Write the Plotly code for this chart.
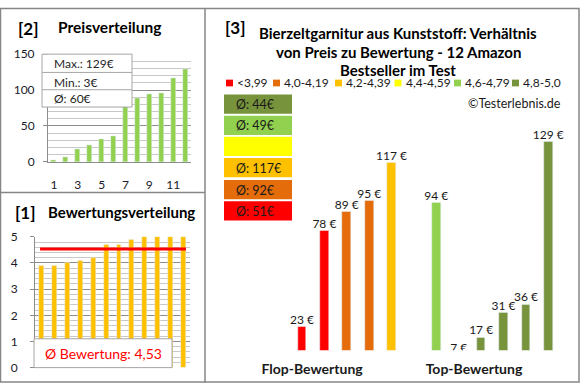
import plotly.graph_objects as go

# ---------------- data ----------------
ratings = [3.9, 3.9, 4.0, 4.1, 4.2, 4.7, 4.7, 4.9, 5.0, 5.0, 5.0, 5.0]
prices = [23, 78, 89, 95, 117, 3, 94, 7, 17, 31, 36, 129]
price_positions = list(range(1, 13))
price_tickvals = [1, 3, 5, 7, 9, 11]
class_labels = ["<3,99", "4,0-4,19", "4,2-4,39", "4,4-4,59", "4,6-4,79", "4,8-5,0"]
class_lows = [0.0, 4.0, 4.2, 4.4, 4.6, 4.8]
class_colors = ["#FF0000", "#E46C0A", "#FFC000", "#FFFF00", "#92D050", "#77933C"]
group_labels = ["Flop-Bewertung", "Top-Bewertung"]
group_positions = [0.45, 7.68]
title_lines = ["Bierzeltgarnitur aus Kunststoff: Verhältnis",
               "von Preis zu Bewertung - 12 Amazon",
               "Bestseller im Test"]

FONT = "Lato"
W, H = 580, 390


def X(px):
    return px / W


def Y(py):
    return 1 - py / H


def cls(r):
    idx = 0
    for i, lo in enumerate(class_lows):
        if r >= lo - 1e-9:
            idx = i
    return idx


def rnd(v):
    return int(v + 0.5)


bar_colors = [class_colors[cls(r)] for r in ratings]
sorted_prices = sorted(prices)
price_mean = sum(prices) / len(prices)
rating_mean = sum(ratings) / len(ratings)

fig = go.Figure()

# ---------- panel [2] Preisverteilung ----------
fig.add_trace(go.Bar(x=price_positions, y=sorted_prices, marker_color="#92D050",
                     width=0.42, xaxis="x", yaxis="y", showlegend=False))

# ---------- panel [1] Bewertungsverteilung ----------
fig.add_trace(go.Bar(x=price_positions, y=sorted(ratings), marker_color="#FFC000",
                     width=0.38, xaxis="x2", yaxis="y2", showlegend=False))
fig.add_trace(go.Scatter(x=[0.89, 12.19], y=[rating_mean, rating_mean], mode="lines",
                         line=dict(color="#FF0000", width=3), xaxis="x2", yaxis="y2",
                         showlegend=False))

# ---------- panel [3] main ----------
idx = list(range(len(prices)))
fig.add_trace(go.Bar(x=idx, y=prices, marker_color=bar_colors, width=0.39,
                     xaxis="x3", yaxis="y3", showlegend=False))
fig.add_trace(go.Scatter(x=idx, y=prices, mode="text", text=[f"{p} €" for p in prices],
                         textposition="top center",
                         textfont=dict(family=FONT, size=12, color="#1a1a1a"),
                         xaxis="x3", yaxis="y3", showlegend=False, cliponaxis=True))

grid_major = "#8C8C8C"
grid_minor = "#C8C8C8"
tickfont = dict(family=FONT, size=12, color="#1a1a2a")

fig.update_layout(
    width=W, height=H, margin=dict(l=0, r=0, t=0, b=0),
    paper_bgcolor="white", plot_bgcolor="rgba(0,0,0,0)",
    font=dict(family=FONT), bargap=0,
    xaxis=dict(domain=[X(48), X(191)], range=[0.5, 12.5], tickvals=price_tickvals,
               anchor="y", showgrid=False, showline=True, linecolor=grid_major, ticks="",
               tickfont=tickfont, ticklabelstandoff=12, zeroline=False),
    yaxis=dict(domain=[Y(160), Y(48)], range=[0, 150], tickvals=[0, 50, 100, 150],
               anchor="x", showgrid=True, gridcolor=grid_major, gridwidth=1,
               minor=dict(dtick=10, showgrid=True, gridcolor=grid_minor, ticks=""),
               showline=True, linecolor=grid_major, ticks="outside", ticklen=4,
               tickcolor=grid_major, tickfont=tickfont, ticklabelstandoff=6,
               zeroline=False),
    xaxis2=dict(domain=[X(35), X(190)], range=[0.5, 12.5], anchor="y2",
                showticklabels=False, showgrid=False, showline=False, ticks="",
                zeroline=False),
    yaxis2=dict(domain=[Y(374), Y(238)], range=[0, 5], tickvals=[0, 1, 2, 3, 4, 5],
                anchor="x2", showgrid=True, gridcolor=grid_major, gridwidth=1,
                minor=dict(dtick=0.2, showgrid=True, gridcolor=grid_minor, ticks=""),
                showline=True, linecolor=grid_major, ticks="outside", ticklen=4,
                tickcolor=grid_major, tickfont=tickfont, ticklabelstandoff=10,
                zeroline=False),
    xaxis3=dict(domain=[X(210), X(575)], range=[-4.109, 12.193], tickvals=group_positions,
                anchor="y3", ticktext=group_labels, showgrid=False, showline=False, ticks="",
                tickfont=dict(family=FONT, size=14, color="#1a1a1a", weight="bold"),
                ticklabelstandoff=9, zeroline=False),
    yaxis3=dict(domain=[Y(356), Y(60)], range=[9.63, 172.4], anchor="x3", visible=False),
)

shapes = []
ann = []
border = "#868686"
# outer frame and dividers
shapes.append(dict(type="rect", xref="paper", yref="paper", x0=X(0.5), x1=X(579), y0=Y(389), y1=Y(0.5),
                   line=dict(color=border, width=1.5)))
shapes.append(dict(type="line", xref="paper", yref="paper", x0=X(205), x1=X(205), y0=Y(390), y1=Y(0),
                   line=dict(color=border, width=1.5)))
shapes.append(dict(type="line", xref="paper", yref="paper", x0=X(0), x1=X(205), y0=Y(192), y1=Y(192),
                   line=dict(color=border, width=1.5)))


def text(x, y, s, size, bold=False, color="#000000", anchor="left"):
    ann.append(dict(xref="paper", yref="paper", x=X(x), y=Y(y), text=s, showarrow=False,
                    xanchor=anchor, yanchor="middle",
                    font=dict(family=FONT, size=size, color=color,
                              weight="bold" if bold else "normal")))


# panel titles
text(16, 21, "[2]", 17, True)
text(56, 20, "Preisverteilung", 15.5, True)
text(13, 213, "[1]", 17, True)
text(46, 212, "Bewertungsverteilung", 15, True)
text(223, 20, "[3]", 17, True)
for i, line in enumerate(title_lines):
    text(398, 26 + i * 19.5, line, 15, True, anchor="center")

# price summary box
shapes.append(dict(type="rect", xref="paper", yref="paper", x0=X(42), x1=X(132), y0=Y(103), y1=Y(48),
                   fillcolor="white", line=dict(color="#A6A6A6", width=1)))
for yy in (67, 85):
    shapes.append(dict(type="line", xref="paper", yref="paper", x0=X(42), x1=X(132), y0=Y(yy), y1=Y(yy),
                       line=dict(color="#A6A6A6", width=1)))
text(52, 58, f"Max.: {max(prices)}€", 12, color="#262626")
text(52, 77, f"Min.: {min(prices)}€", 12, color="#262626")
text(52, 94, f"Ø: {rnd(price_mean)}€", 12, color="#262626")

# rating summary box
shapes.append(dict(type="rect", xref="paper", yref="paper", x0=X(34), x1=X(172), y0=Y(374), y1=Y(344),
                   fillcolor="white", line=dict(color="#A6A6A6", width=1)))
text(103, 359, "Ø Bewertung: " + f"{rating_mean:.2f}".replace(".", ","), 14, color="#FF0000",
     anchor="center")

# legend
leg_sq_x = [226, 273, 335, 394.5, 454, 512]
for i, lab in enumerate(class_labels):
    sx = leg_sq_x[i]
    shapes.append(dict(type="rect", xref="paper", yref="paper", x0=X(sx), x1=X(sx + 7),
                       y0=Y(81.5), y1=Y(74.5), fillcolor=class_colors[i], line=dict(width=0)))
    text(sx + 9, 78, lab, 12, color="#1a1a1a")

text(563, 99, "©Testerlebnis.de", 12.5, color="#1a1a1a", anchor="right")

# average boxes per class (top: best class)
box_tops = [90, 112, 134, 156, 179, 201]
for j, ci in enumerate(range(len(class_labels) - 1, -1, -1)):
    vals = [p for p, r in zip(prices, ratings) if cls(r) == ci]
    top = box_tops[j]
    shapes.append(dict(type="rect", xref="paper", yref="paper", x0=X(224), x1=X(292),
                       y0=Y(top + 20), y1=Y(top), fillcolor=class_colors[ci], line=dict(width=0)))
    if vals:
        text(234, top + 10.5, f"Ø: {rnd(sum(vals) / len(vals))}€", 12.5, color="#1a1a1a")

fig.update_layout(shapes=shapes, annotations=ann)
fig.write_html("out.html", config={"displayModeBar": False},
               post_script="document.body.style.margin='0';document.body.style.padding='0';")
